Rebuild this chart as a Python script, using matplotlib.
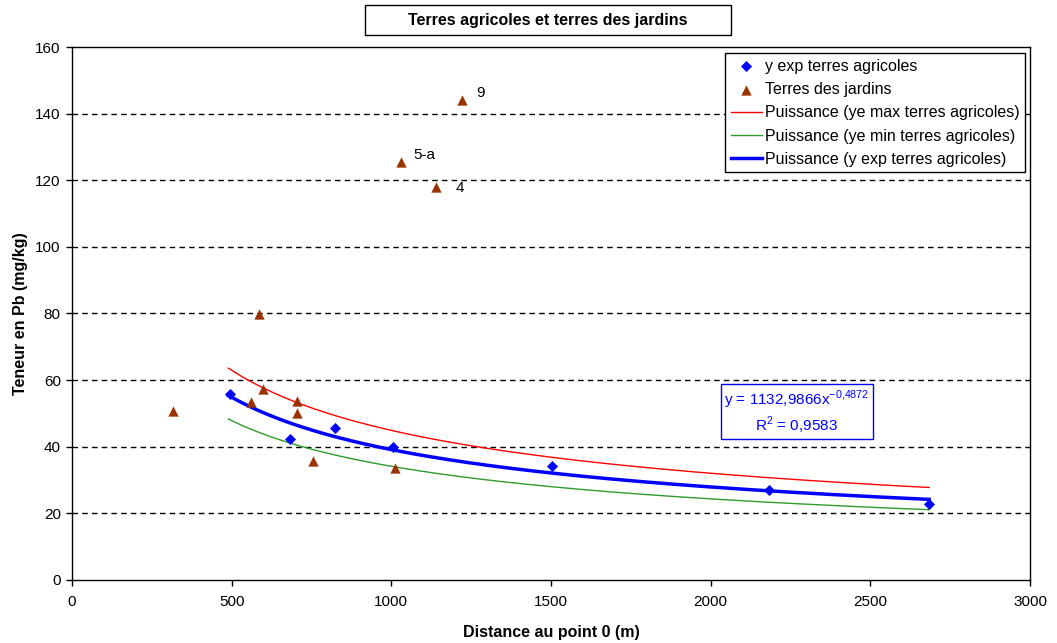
import numpy as np
import matplotlib
matplotlib.use("Agg")
import matplotlib.pyplot as plt
from matplotlib.patches import Rectangle

plt.rcParams['font.family'] = ['Liberation Sans', 'DejaVu Sans']

# Data
agri_x = [495, 683, 824, 1005, 1503, 2183, 2684]
agri_y = [55.8, 42.3, 45.6, 39.9, 34.2, 27.0, 22.8]

jard_x = [316, 561, 586, 598, 705, 705, 755, 1012, 1030, 1140, 1221]
jard_y = [50.7, 53.4, 79.9, 57.3, 53.7, 50.1, 35.7, 33.6, 125.5, 118.0, 144.1]
jard_labels = {8: "5-a", 9: "4", 10: "9"}

# Power trendlines y = a * x^b
fit_exp = (1132.9866, -0.4872)
fit_max = (1300.0, -0.4872)
fit_min = (988.0, -0.4872)
fit_range = (490, 2684)

x_ticks = [0, 500, 1000, 1500, 2000, 2500, 3000]
y_ticks = [0, 20, 40, 60, 80, 100, 120, 140, 160]

fig = plt.figure(figsize=(10.57, 6.43), dpi=100)
ax = fig.add_axes([0.0681, 0.098, 0.9064, 0.8289])

xs = np.linspace(fit_range[0], fit_range[1], 300)
ax.plot(xs, fit_max[0] * xs ** fit_max[1], color='#FF0000', lw=1.0,
        label='Puissance (ye max terres agricoles)', zorder=3)
ax.plot(xs, fit_min[0] * xs ** fit_min[1], color='#2E9B2E', lw=1.0,
        label='Puissance (ye min terres agricoles)', zorder=3)
ax.plot(xs, fit_exp[0] * xs ** fit_exp[1], color='#0000FF', lw=2.5,
        label='Puissance (y exp terres agricoles)', zorder=3)

ax.scatter(agri_x, agri_y, marker='D', s=32, color='#0000FF', zorder=4,
           label='y exp terres agricoles', linewidths=0)
ax.scatter(jard_x, jard_y, marker='^', s=55, color='#993300', zorder=4,
           label='Terres des jardins', linewidths=0)

offsets = {8: (9, 0), 9: (14, -1), 10: (10, 0)}
for i, lab in jard_labels.items():
    ax.annotate(lab, (jard_x[i], jard_y[i]), xytext=offsets[i],
                textcoords='offset points', fontsize=11, color='#000000',
                ha='left', va='bottom' if i != 9 else 'center')

ax.set_xlim(0, 3000)
ax.set_ylim(0, 160)
ax.set_xticks(x_ticks)
ax.set_yticks(y_ticks)
ax.tick_params(labelsize=11, direction='out', length=4, width=1, colors='black')
ax.tick_params(axis='x', pad=7)
ax.tick_params(axis='y', pad=4)
for s in ax.spines.values():
    s.set_linewidth(1.0)
    s.set_color('black')
for yv in y_ticks[1:-1]:
    ax.axhline(yv, color='black', lw=1.0, ls=(0, (4, 3)), zorder=1)

ax.set_xlabel('Distance au point 0 (m)', fontsize=11.5, fontweight='bold', labelpad=11)
ax.set_ylabel('Teneur en Pb (mg/kg)', fontsize=11.5, fontweight='bold', labelpad=5)

handles, labels = ax.get_legend_handles_labels()
order = [3, 4, 0, 1, 2]
leg = ax.legend([handles[i] for i in order], [labels[i] for i in order],
                loc='upper right', bbox_to_anchor=(0.9948, 0.9887),
                fontsize=11.5, frameon=True, fancybox=False, edgecolor='black',
                framealpha=1, borderpad=0.35, labelspacing=0.52,
                handlelength=2.0, handletextpad=0.15, borderaxespad=0)
leg.get_frame().set_linewidth(1.0)

ax.text(2270, 50.4, 'y = 1132,9866x$^{\\mathregular{-0{,}4872}}$\nR$^{\\mathregular{2}}$ = 0,9583',
        color='#0000FF', fontsize=11, ha='center', va='center', linespacing=1.2,
        bbox=dict(boxstyle='square,pad=0.25', fc='white', ec='#0000FF', lw=1.0),
        zorder=5)

fig.patches.append(Rectangle((365 / 1057, 1 - 35 / 643), 366 / 1057, 30 / 643,
                             transform=fig.transFigure, fc='white', ec='black',
                             lw=1.0, zorder=1))
fig.text(548 / 1057, 1 - 20 / 643, 'Terres agricoles et terres des jardins', fontsize=11.5,
         fontweight='bold', ha='center', va='center', zorder=2)

fig.savefig('out.png', dpi=100)
